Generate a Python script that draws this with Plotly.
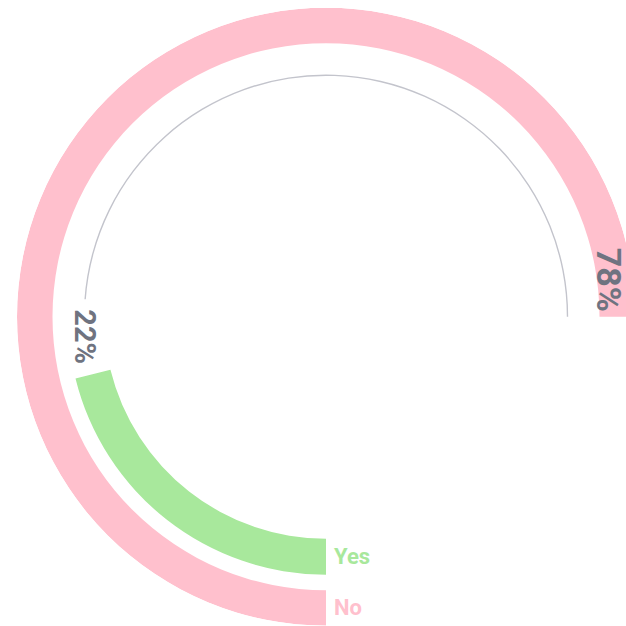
import math
import plotly.graph_objects as go

# ---- data ----
categories = ["Yes", "No"]
values = [22, 78]
value_labels = ["22%", "78%"]

# ---- style ----
colors = {"Yes": "#a8e89c", "No": "#ffc0cd"}
ring_radii = {"Yes": (222, 258), "No": (273.5, 309)}   # inner, outer (radial units)
pct_font_size = {"Yes": 29, "No": 34}
label_color = "#6f7380"
track_color = "#c3c4cc"
track_radius = 241.5
MAX_ANGLE = 270.0
R_MAX = 309.0
FONT = "Roboto"

# figure is slightly wider than the 626 px window so the outer ring is cut at the right edge
W, H = 635, 626
SIDE = 2 * R_MAX
CX = 326
CY_TOP = 316.7
dom_x = [max(0, (CX - SIDE / 2) / W), min(1, (CX + SIDE / 2) / W)]
dom_y = [max(0, (H - (CY_TOP + SIDE / 2)) / H), min(1, (H - (CY_TOP - SIDE / 2)) / H)]

vmax = max(values)
angle_of = lambda v: v / vmax * MAX_ANGLE

fig = go.Figure()

for cat, v in zip(categories, values):
    a = angle_of(v)
    r0, r1 = ring_radii[cat]
    fig.add_trace(go.Barpolar(
        r=[r1 - r0], base=[r0], theta=[a / 2], width=[a],
        marker=dict(color=colors[cat], line=dict(width=0)),
        hoverinfo="skip", showlegend=False,
    ))

yes_angle = angle_of(values[0])
track_start = yes_angle + 18
fig.add_trace(go.Barpolar(
    r=[1.4], base=[track_radius - 0.7],
    theta=[(track_start + MAX_ANGLE) / 2], width=[MAX_ANGLE - track_start],
    marker=dict(color=track_color, line=dict(width=0)),
    hoverinfo="skip", showlegend=False,
))

fig.add_trace(go.Scatter(x=[0], y=[0], mode="markers", marker=dict(opacity=0),
                         hoverinfo="skip", showlegend=False, xaxis="x", yaxis="y"))

def xy(theta_deg, r):
    t = math.radians(theta_deg)
    return -r * math.sin(t), -r * math.cos(t)

annotations = []
for cat, v, lab in zip(categories, values, value_labels):
    a = angle_of(v)
    r0, r1 = ring_radii[cat]
    rm = (r0 + r1) / 2
    if a + 18 <= MAX_ANGLE:
        lt = a + 9
        rl = rm + 2
    else:
        lt = a - 7.5
        rl = rm - 6
    x, y = xy(lt, rl)
    annotations.append(dict(
        x=x, y=y, xref="x", yref="y", text=lab, showarrow=False, textangle=90,
        font=dict(family=FONT, size=pct_font_size[cat], color=label_color, weight="bold"),
        xanchor="center", yanchor="middle",
    ))
    x, y = xy(0, rm)
    annotations.append(dict(
        x=x + 6, y=y, xref="x", yref="y", text=cat, showarrow=False,
        font=dict(family=FONT, size=22, color=colors[cat], weight="bold"),
        xanchor="left", yanchor="middle",
    ))

fig.update_layout(
    width=W, height=H,
    margin=dict(l=0, r=0, t=0, b=0),
    paper_bgcolor="white",
    plot_bgcolor="rgba(0,0,0,0)",
    showlegend=False,
    polar=dict(
        domain=dict(x=dom_x, y=dom_y),
        bgcolor="white",
        barmode="overlay",
        angularaxis=dict(direction="clockwise", rotation=-90, visible=False,
                         showgrid=False, showline=False, showticklabels=False, ticks=""),
        radialaxis=dict(range=[0, R_MAX], visible=False, showgrid=False,
                        showline=False, showticklabels=False, ticks=""),
    ),
    xaxis=dict(domain=dom_x, range=[-R_MAX, R_MAX], visible=False, fixedrange=True),
    yaxis=dict(domain=dom_y, range=[-R_MAX, R_MAX], visible=False, fixedrange=True),
    annotations=annotations,
)

fig.write_html(
    "out.html",
    config={"displayModeBar": False},
    post_script="document.body.style.margin='0';document.documentElement.style.overflow='hidden';",
)
